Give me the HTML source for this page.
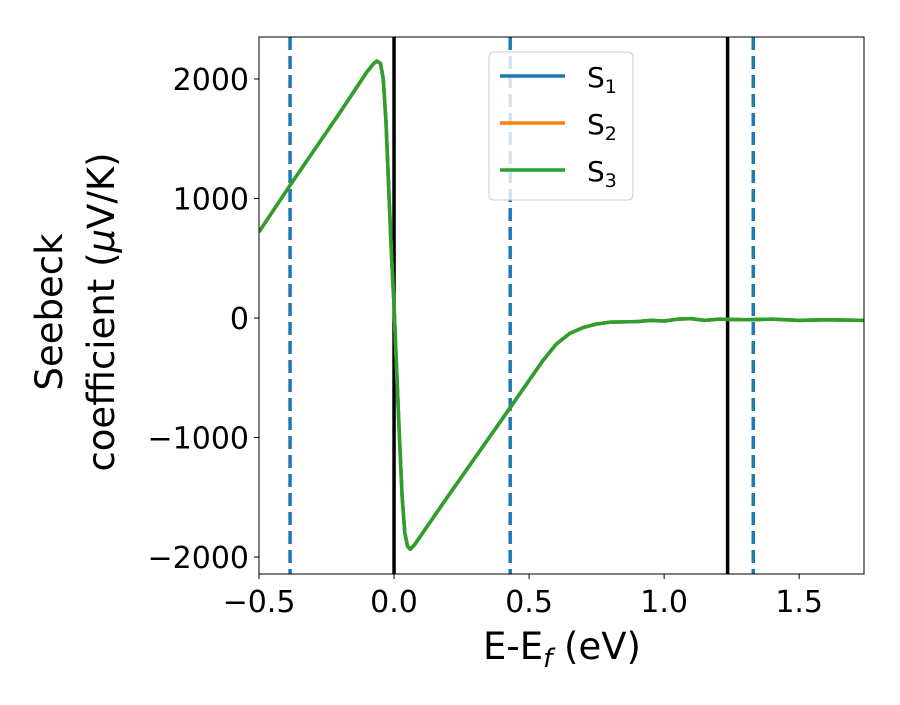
<!DOCTYPE html>
<html><head><meta charset="utf-8"><style>
body{margin:0;background:#fff}
svg text{font-family:"DejaVu Sans","Liberation Sans",sans-serif;fill:#000}
</style></head><body>
<svg width="900" height="700" xmlns="http://www.w3.org/2000/svg">
<g id="plot"></g>
</svg>
<script>
const energies=[-0.5,-0.385,-0.2,-0.1,-0.075,-0.063,-0.05,-0.04,-0.03,-0.02,-0.01,0,0.01,0.02,0.03,0.04,0.05,0.06,0.075,0.2,0.43,0.55,0.6,0.65,0.7,0.75,0.8,0.9,0.95,1.0,1.05,1.1,1.15,1.2,1.3,1.4,1.5,1.6,1.74];
const s1=[720,1110,1720,2060,2130,2150,2130,2000,1650,1100,550,100,-450,-1000,-1500,-1800,-1910,-1935,-1900,-1490,-750,-360,-220,-130,-80,-50,-35,-30,-20,-25,-10,-5,-20,-10,-15,-10,-20,-15,-20];
const s2=s1.slice();
const s3=s1.slice();
const xTicks=[-0.5,0.0,0.5,1.0,1.5];
const xTickLabels=["\u22120.5","0.0","0.5","1.0","1.5"];
const yTicks=[-2000,-1000,0,1000,2000];
const yTickLabels=["\u22122000","\u22121000","0","1000","2000"];
const solidLines=[0.0,1.235];
const dashedLines=[-0.385,0.43,1.33];
const L=259,R=864,T=37,B=574,xmin=-0.5,xmax=1.74,ymin=-2142,ymax=2351;
const X=v=>L+(v-xmin)/(xmax-xmin)*(R-L);
const Y=v=>B-(v-ymin)/(ymax-ymin)*(B-T);
const NS="http://www.w3.org/2000/svg";
const g=document.getElementById('plot');
function mk(t,a){const e=document.createElementNS(NS,t);for(const k in a)e.setAttribute(k,a[k]);g.appendChild(e);return e;}
let cp=mk('clipPath',{id:'cp'});cp.appendChild(document.createElementNS(NS,'rect'));
const cr=cp.firstChild;cr.setAttribute('x',L);cr.setAttribute('y',T);cr.setAttribute('width',R-L);cr.setAttribute('height',B-T);
dashedLines.forEach(v=>{const e=mk('line',{x1:X(v),x2:X(v),y1:T,y2:B,stroke:'#1f77b4','stroke-width':3.5,'stroke-dasharray':'13,6'});

});
solidLines.forEach(v=>{const e=mk('line',{x1:X(v),x2:X(v),y1:T,y2:B,stroke:'#000','stroke-width':3.5});

});
[[s1,'#1f77b4','series-s1'],[s2,'#ff7f0e','series-s2'],[s3,'#2ca02c','series-s3']].forEach(([d,c,n])=>{
const e=mk('polyline',{points:energies.map((x,i)=>X(x)+','+Y(d[i])).join(' '),fill:'none',stroke:c,'stroke-width':3.5,'stroke-linejoin':'round','clip-path':'url(#cp)'});

});
const fr=mk('rect',{x:L,y:T,width:R-L,height:B-T,fill:'none',stroke:'#000','stroke-width':1});


xTicks.forEach((v,i)=>{mk('line',{x1:X(v),x2:X(v),y1:B,y2:B+5,stroke:'#000'});
const t=mk('text',{x:X(v),y:B+38,'text-anchor':'middle','font-size':30});t.textContent=xTickLabels[i];

});
yTicks.forEach((v,i)=>{mk('line',{x1:L-5,x2:L,y1:Y(v),y2:Y(v),stroke:'#000'});
const t=mk('text',{x:L-10,y:Y(v)+11,'text-anchor':'end','font-size':30});t.textContent=yTickLabels[i];

});
</script>
<svg width="900" height="700" style="position:absolute;left:0;top:0" xmlns="http://www.w3.org/2000/svg">
<text x="562" y="659" text-anchor="middle" font-size="37">E-E<tspan font-style="italic" font-size="26" dy="8">f</tspan><tspan dy="-8"> (eV)</tspan></text>
<g transform="translate(62,312) rotate(-90)">
<text x="0" y="0" text-anchor="middle" font-size="37">Seebeck</text>
<text x="0" y="52" text-anchor="middle" font-size="37">coefficient  (<tspan font-style="italic">μ</tspan>V/K)</text>
</g>
<g>
<rect x="489" y="52" width="144" height="148" rx="5" fill="#fff" fill-opacity="0.8" stroke="#ccc"/>
<line x1="500" x2="565" y1="76" y2="76" stroke="#1f77b4" stroke-width="3.5"/>
<line x1="500" x2="565" y1="123" y2="123" stroke="#ff7f0e" stroke-width="3.5"/>
<line x1="500" x2="565" y1="170" y2="170" stroke="#2ca02c" stroke-width="3.5"/>
<text x="587" y="87" font-size="28">S<tspan font-size="19" dy="6">1</tspan></text>
<text x="587" y="134" font-size="28">S<tspan font-size="19" dy="6">2</tspan></text>
<text x="587" y="181" font-size="28">S<tspan font-size="19" dy="6">3</tspan></text>
</g>
</svg>
</body></html>
